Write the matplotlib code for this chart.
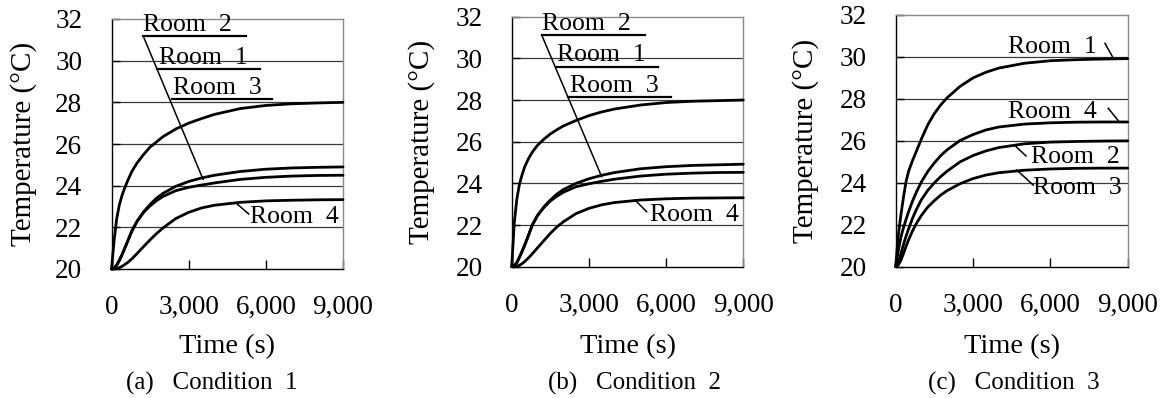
import matplotlib
matplotlib.use("Agg")
import matplotlib.pyplot as plt

plt.rcParams['font.family'] = ['Liberation Serif', 'DejaVu Serif']

# ---------------- data ----------------
time_s = [0, 100, 200, 300, 400, 500, 650, 800, 1000, 1250, 1500, 1750,
          2000, 2500, 3000, 3500, 4000, 5000, 6000, 7000, 8000, 9000]

# Condition 1
c1_top = [20, 21.35, 22.4, 23.05, 23.5, 23.85, 24.3, 24.7, 25.1, 25.5, 25.85, 26.1,
          26.35, 26.72, 27.0, 27.22, 27.42, 27.7, 27.85, 27.93, 27.97, 28.0]
c1_mid_hi = [20, 20.04, 20.18, 20.4, 20.66, 20.95, 21.4, 21.85, 22.3, 22.75, 23.1, 23.4,
             23.63, 23.97, 24.2, 24.37, 24.5, 24.68, 24.79, 24.85, 24.88, 24.9]
c1_mid_lo = [20, 20.04, 20.18, 20.4, 20.66, 20.95, 21.4, 21.85, 22.3, 22.72, 23.03, 23.28,
             23.48, 23.76, 23.92, 24.03, 24.13, 24.3, 24.4, 24.46, 24.49, 24.5]
c1_room4 = [20, 20.0, 20.02, 20.06, 20.12, 20.2, 20.33, 20.5, 20.75, 21.08, 21.4, 21.7,
            21.97, 22.42, 22.72, 22.93, 23.06, 23.2, 23.27, 23.3, 23.32, 23.33]

# Condition 2
c2_top = [20, 22.1, 23.25, 23.95, 24.4, 24.78, 25.18, 25.5, 25.82, 26.12, 26.37, 26.57,
          26.75, 27.02, 27.25, 27.43, 27.57, 27.76, 27.88, 27.94, 27.97, 28.0]
c2_mid_hi = [20, 20.05, 20.2, 20.45, 20.73, 21.02, 21.5, 22.0, 22.45, 22.87, 23.2, 23.48,
             23.7, 24.0, 24.22, 24.39, 24.52, 24.7, 24.8, 24.86, 24.89, 24.92]
c2_mid_lo = [20, 20.05, 20.2, 20.45, 20.73, 21.02, 21.5, 22.0, 22.45, 22.84, 23.15, 23.38,
             23.57, 23.84, 23.98, 24.1, 24.2, 24.35, 24.44, 24.49, 24.52, 24.53]
c2_room4 = [20, 20.0, 20.02, 20.07, 20.14, 20.24, 20.42, 20.62, 20.9, 21.25, 21.6, 21.9,
            22.15, 22.55, 22.8, 22.97, 23.08, 23.2, 23.26, 23.29, 23.3, 23.31]

# Condition 3
c3_room1 = [20, 21.5, 22.45, 23.3, 24.05, 24.55, 25.05, 25.5, 26.1, 26.78, 27.3, 27.72,
            28.06, 28.6, 29.0, 29.27, 29.47, 29.7, 29.82, 29.87, 29.9, 29.92]
c3_room4 = [20, 20.75, 21.4, 21.85, 22.25, 22.62, 23.12, 23.55, 24.05, 24.55, 24.95, 25.3,
            25.58, 26.02, 26.3, 26.52, 26.66, 26.8, 26.86, 26.89, 26.9, 26.9]
c3_room2 = [20, 20.2, 20.6, 21.05, 21.45, 21.8, 22.3, 22.72, 23.2, 23.65, 24.0, 24.3,
            24.56, 25.0, 25.3, 25.52, 25.68, 25.86, 25.94, 25.97, 25.99, 26.0]
c3_room3 = [20, 20.08, 20.3, 20.62, 20.97, 21.28, 21.7, 22.06, 22.45, 22.85, 23.15, 23.42,
            23.63, 23.96, 24.2, 24.37, 24.48, 24.6, 24.66, 24.69, 24.7, 24.7]

x_ticks = [0, 3000, 6000, 9000]
x_tick_labels = ['0', '3,000', '6,000', '9,000']
y_ticks = [20, 22, 24, 26, 28, 30, 32]
captions = ['(a)   Condition  1', '(b)   Condition  2', '(c)   Condition  3']

# ---------------- figure ----------------
W, H = 1169, 398
fig = plt.figure(figsize=(W / 100, H / 100), dpi=100)

panels_px = [  # left, top, right, bottom in pixels
    (111.5, 19.0, 343.0, 269.0),
    (511.7, 16.7, 743.3, 266.7),
    (895.7, 15.0, 1127.7, 266.7),
]
ylabel_x = [24, 422, 806]
caption_x = [211.5, 634, 1014]

series = [
    [c1_top, c1_mid_hi, c1_mid_lo, c1_room4],
    [c2_top, c2_mid_hi, c2_mid_lo, c2_room4],
    [c3_room1, c3_room4, c3_room2, c3_room3],
]

axes = []
for i, (l, t, r, b) in enumerate(panels_px):
    ax = fig.add_axes([l / W, 1 - b / H, (r - l) / W, (b - t) / H])
    axes.append(ax)
    ax.set_xlim(0, 9000)
    ax.set_ylim(20, 32)
    ax.set_xticks(x_ticks)
    ax.set_xticklabels(x_tick_labels)
    ax.set_yticks(y_ticks)
    ax.tick_params(axis='both', direction='in', labelsize=19.5, colors='black')
    ax.tick_params(axis='x', length=6.5, width=1.0, pad=19)
    ax.tick_params(axis='y', length=5.5, width=1.0, pad=21)
    for yv in [22, 24, 26, 28, 30]:
        ax.axhline(yv, color='#3a3a3a', lw=0.9, zorder=1)
    ax.spines['left'].set_color('black')
    ax.spines['bottom'].set_color('black')
    ax.spines['left'].set_linewidth(1.0)
    ax.spines['bottom'].set_linewidth(1.0)
    for s in ['top', 'right']:
        ax.spines[s].set_color('#8a8a8a')
        ax.spines[s].set_linewidth(1.0)
    for ys in series[i]:
        ax.plot(time_s, ys, color='black', lw=2.0, solid_joinstyle='round',
                solid_capstyle='round', zorder=3, clip_on=False)
    cy = (t + b) / 2
    fig.text(ylabel_x[i] / W, 1 - cy / H, 'Temperature (°C)', rotation=90,
             ha='center', va='center', fontsize=21)
    fig.text(((l + r) / 2) / W, 1 - 347 / H, 'Time (s)', ha='center', va='center',
             fontsize=20.5)
    fig.text(caption_x[i] / W, 1 - 383 / H, captions[i], ha='center', va='center',
             fontsize=18)

lab_fs = 18.5
line_kw = dict(color='black', lw=1.1, clip_on=False, zorder=4)

# panels (a) and (b): stacked labels with underlines and one leader
stack = [
    dict(ul=[(1234, 5243, 31.18), (1753, 5760, 29.6), (2335, 6253, 28.16)],
         lead=((1234, 31.18), (3561, 24.3)),
         tx=[1234, 1830, 2390],
         r4lead=((4857, 23.15), (5334, 22.64)), r4text=(5373, 22.51)),
    dict(ul=[(1166, 5180, 31.12), (1710, 5697, 29.6), (2200, 6179, 28.13)],
         lead=((1166, 31.12), (3497, 24.32)),
         tx=[1166, 1750, 2266],
         r4lead=((4791, 23.2), (5246, 22.64)), r4text=(5374, 22.48)),
]
names = ['Room  2', 'Room  1', 'Room  3']
for i in range(2):
    ax = axes[i]
    s = stack[i]
    for (x0, x1, yv) in s['ul']:
        ax.plot([x0, x1], [yv, yv], color='black', lw=1.6, clip_on=False, zorder=4)
    (a0, a1) = s['lead']
    ax.plot([a0[0], a1[0]], [a0[1], a1[1]], **line_kw)
    for nm, xl, (x0, x1, yv) in zip(names, s['tx'], s['ul']):
        ax.text(xl, yv + 0.02, nm, ha='left', va='bottom', fontsize=lab_fs,
                clip_on=False, zorder=5)
    (r0, r1) = s['r4lead']
    ax.plot([r0[0], r1[0]], [r0[1], r1[1]], **line_kw)
    ax.text(s['r4text'][0], s['r4text'][1], 'Room  4', ha='left', va='center',
            fontsize=lab_fs, zorder=5)

# panel (c)
ax = axes[2]
c_labels = [
    ('Room  1', (4357, 30.49), ((8119, 30.65), (8441, 29.94))),
    ('Room  4', (4357, 27.39), ((8248, 27.55), (8636, 26.96))),
    ('Room  2', (5237, 25.24), ((4628, 25.77), (5055, 25.28))),
    ('Room  3', (5338, 23.73), ((4694, 24.61), (5338, 23.89))),
]
for nm, (tx, ty), (p0, p1) in c_labels:
    ax.text(tx, ty, nm, ha='left', va='center', fontsize=lab_fs, zorder=5)
    ax.plot([p0[0], p1[0]], [p0[1], p1[1]], **line_kw)

fig.savefig('out.png', dpi=100)
